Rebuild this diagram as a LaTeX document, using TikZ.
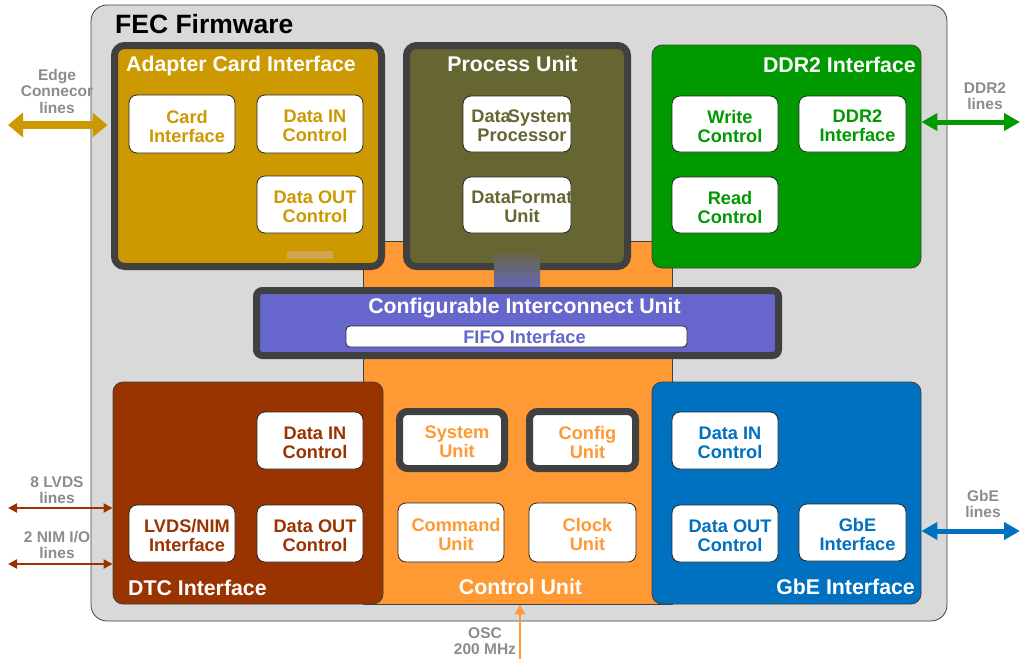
\documentclass[tikz,border=0pt]{standalone}
\usepackage{fontspec}
\setmainfont{Liberation Sans}
\usetikzlibrary{arrows.meta}

\definecolor{fecGray}{HTML}{D9D9D9}
\definecolor{frameGray}{HTML}{404040}
\definecolor{lineGray}{HTML}{8C8C8C}
\definecolor{aciGold}{HTML}{CC9900}
\definecolor{aciGlow}{HTML}{D2A650}
\definecolor{puOlive}{HTML}{666633}
\definecolor{cuOrange}{HTML}{FF9933}
\definecolor{ddrGreen}{HTML}{009900}
\definecolor{ciuPurple}{HTML}{6666CC}
\definecolor{dtcBrown}{HTML}{993300}
\definecolor{gbeBlue}{HTML}{0070C0}

\newcommand\fecTitleFont{\fontsize{26.5}{28}\selectfont\bfseries}
\newcommand\fecHeadFont{\fontsize{21.3}{23}\selectfont\bfseries}
\newcommand\fecUnitFont{\fontsize{18.2}{19}\selectfont\bfseries}
\newcommand\fecLineFont{\fontsize{15.5}{16.5}\selectfont\bfseries}

\begin{document}
\begin{tikzpicture}[x=1pt,y=-1pt]
    \tikzset{block/.style = {draw=black!75, line width=0.8pt, rounded corners=10pt, inner sep=0pt}}
    \tikzset{frame/.style = {draw=frameGray, line width=7pt, rounded corners=10pt, inner sep=0pt}}
    \tikzset{sub/.style = {draw=black!85, fill=white, line width=0.8pt, rounded corners=8pt,
        minimum width=106pt, minimum height=57pt, inner sep=0pt}}
    \tikzset{unittext/.style = {text=#1, font=\fecUnitFont, align=center, inner sep=0pt, xshift=5pt, yshift=-2pt}}
    \tikzset{head/.style = {text=white, font=\fecHeadFont, inner sep=0pt}}
    \tikzset{ext/.style = {text=lineGray, font=\fecLineFont, align=center, inner sep=0pt}}
    \tikzset{busarrow/.style = {{Triangle[width=24pt,length=15pt]}-{Triangle[width=24pt,length=15pt]}, line width=8pt}}
    \tikzset{linkarrow/.style = {{Triangle[width=17pt,length=16pt]}-{Triangle[width=17pt,length=16pt]}, line width=5pt}}
    \tikzset{wirearrow/.style = {{Triangle[width=9pt,length=9pt]}-{Triangle[width=9pt,length=9pt]}, line width=2.5pt}}
    \tikzset{clockarrow/.style = {-{Triangle[width=10pt,length=10pt]}, line width=2pt}}
    \useasboundingbox (0,0) rectangle (1020,659);
    % blocks
    \node[block, fill=fecGray, rounded corners=16pt, minimum width=856pt, minimum height=616pt] (fec) at (519,313) {};
    \node[block, fill=cuOrange, rounded corners=0pt, minimum width=309pt, minimum height=363pt] (cu) at (517.5,422.5) {};
    \node[frame, fill=aciGold, minimum width=267pt, minimum height=221pt] (aci) at (248,156) {};
    \node[frame, fill=puOlive, minimum width=221pt, minimum height=221pt] (pu) at (517,156) {};
    \node[inner sep=0pt, minimum width=46pt, minimum height=44pt, top color=puOlive, bottom color=ciuPurple] (bus) at (517,270) {};
    \node[block, fill=ddrGreen, minimum width=269pt, minimum height=223pt] (ddr) at (786.5,156.5) {};
    \node[frame, fill=ciuPurple, rounded corners=6pt, minimum width=522pt, minimum height=65pt] (ciu) at (517.5,323) {};
    \node[block, fill=dtcBrown, minimum width=270pt, minimum height=222pt] (dtc) at (248,493) {};
    \node[block, fill=gbeBlue, minimum width=269pt, minimum height=222pt] (gbe) at (786.5,493) {};
    \fill[aciGlow] (287,251) rectangle (333,259);
    % units
    \node[sub, minimum height=58pt, label={[unittext=aciGold]center:Card\\Interface}] (aciCard) at (182,124) {};
    \node[sub, minimum height=58pt, label={[unittext=aciGold]center:Data IN\\Control}] (aciIn) at (310,124) {};
    \node[sub, label={[unittext=aciGold]center:Data OUT\\Control}] (aciOut) at (310,204.5) {};
    \node[sub, minimum width=108pt, minimum height=56pt, label={[unittext=puOlive]center:Data\kern-3pt System\\Processor}] (puSys) at (517,124) {};
    \node[sub, minimum width=108pt, minimum height=56pt, label={[unittext=puOlive]center:DataFormat\\Unit}] (puFmt) at (517,205) {};
    \node[sub, minimum height=56pt, label={[unittext=ddrGreen]center:Write\\Control}] (ddrWr) at (725,124) {};
    \node[sub, minimum width=107pt, minimum height=56pt, label={[unittext=ddrGreen]center:DDR2\\Interface}] (ddrIf) at (852.5,124) {};
    \node[sub, minimum height=56pt, label={[unittext=ddrGreen]center:Read\\Control}] (ddrRd) at (725,205) {};
    \node[sub, rounded corners=4pt, minimum width=341pt, minimum height=21pt,
        label={[unittext=ciuPurple, xshift=3pt, yshift=2pt]center:FIFO Interface}] (fifo) at (516.5,336.5) {};
    \node[sub, label={[unittext=dtcBrown]center:Data IN\\Control}] (dtcIn) at (310,440.5) {};
    \node[sub, label={[unittext=dtcBrown]center:LVDS/NIM\\Interface}] (dtcLvds) at (182,533.5) {};
    \node[sub, label={[unittext=dtcBrown]center:Data OUT\\Control}] (dtcOut) at (310,533.5) {};
    \node[sub, draw=frameGray, line width=7pt, minimum width=105pt, label={[unittext=cuOrange]center:System\\Unit}] (cuSys) at (452,440) {};
    \node[sub, draw=frameGray, line width=7pt, label={[unittext=cuOrange]center:Config\\Unit}] (cuCfg) at (582.5,440) {};
    \node[sub, minimum height=59pt, label={[unittext=cuOrange]center:Command\\Unit}] (cuCmd) at (451,532.5) {};
    \node[sub, minimum width=107pt, minimum height=59pt, label={[unittext=cuOrange]center:Clock\\Unit}] (cuClk) at (582.5,532.5) {};
    \node[sub, label={[unittext=gbeBlue]center:Data IN\\Control}] (gbeIn) at (725,440.5) {};
    \node[sub, label={[unittext=gbeBlue]center:Data OUT\\Control}] (gbeOut) at (725,533.5) {};
    \node[sub, minimum width=107pt, label={[unittext=gbeBlue]center:GbE\\Interface}] (gbeIf) at (852.5,532.5) {};
    % titles
    \node[anchor=base west, font=\fecTitleFont, inner sep=0pt] (fecTitle) at (115,33) {FEC Firmware};
    \node[head, anchor=base west] (aciTitle) at (126,71) {Adapter Card Interface};
    \node[head, anchor=base] (puTitle) at (512.5,71) {Process Unit};
    \node[head, anchor=base east] (ddrTitle) at (916,72) {DDR2 Interface};
    \node[head, anchor=base] (ciuTitle) at (524.5,313) {Configurable Interconnect Unit};
    \node[head, anchor=base west] (dtcTitle) at (128,595) {DTC Interface};
    \node[head, anchor=base] (cuTitle) at (520.5,594) {Control Unit};
    \node[head, anchor=base east] (gbeTitle) at (915,594) {GbE Interface};
    % outside lines
    \node[ext] (edgeText) at (57,91) {Edge\\Connecor\\lines};
    \node[ext] (ddrText) at (985,96) {DDR2\\lines};
    \node[ext] (lvdsText) at (57,490) {8 LVDS\\lines};
    \node[ext] (nimText) at (57,545) {2 NIM I/O\\lines};
    \node[ext] (gbeText) at (983,504) {GbE\\lines};
    \node[ext] (oscText) at (485,641) {OSC\\200 MHz};
    \coordinate (edgeL) at (8,125);
    \coordinate (ddrR) at (1020,122);
    \coordinate (lvdsL) at (8,508);
    \coordinate (nimL) at (8,564);
    \coordinate (gbeR) at (1020,531);
    \coordinate (oscB) at (520,659);
    \draw[busarrow, aciGold, shorten >=3.5pt] (edgeL) -- (aci.west |- edgeL);
    \draw[linkarrow, ddrGreen] (ddr.east |- ddrR) -- (ddrR);
    \draw[wirearrow, dtcBrown] (lvdsL) -- (dtc.west |- lvdsL);
    \draw[wirearrow, dtcBrown] (nimL) -- (dtc.west |- nimL);
    \draw[linkarrow, gbeBlue] (gbe.east |- gbeR) -- (gbeR);
    \draw[clockarrow, cuOrange] (oscB) -- (cu.south -| oscB);
\end{tikzpicture}
\end{document}
